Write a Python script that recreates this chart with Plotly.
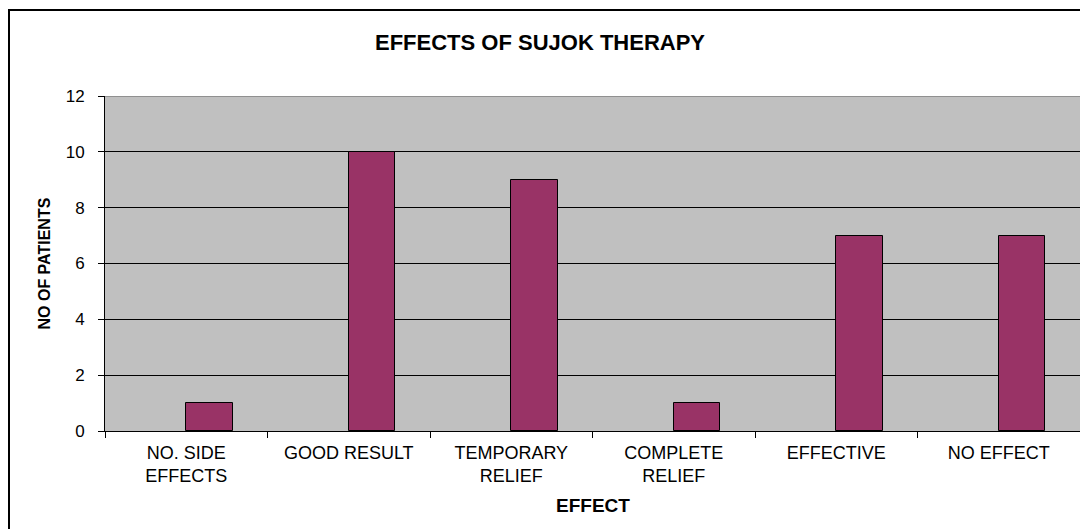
import plotly.graph_objects as go

categories = ["NO. SIDE EFFECTS", "GOOD RESULT", "TEMPORARY RELIEF",
              "COMPLETE RELIEF", "EFFECTIVE", "NO EFFECT"]
tick_labels = ["NO. SIDE<br>EFFECTS", "GOOD RESULT", "TEMPORARY<br>RELIEF",
               "COMPLETE<br>RELIEF", "EFFECTIVE", "NO EFFECT"]
patients = [1, 10, 9, 1, 7, 7]
y_ticks = [0, 2, 4, 6, 8, 10, 12]

W, H = 1080, 529
L, R, T, B = 105, 0, 96, 98
pw, ph = W - L - R, H - T - B

FONT = "Liberation Sans, Arial, sans-serif"

fig = go.Figure()
fig.add_trace(go.Bar(
    x=categories, y=patients,
    width=0.286, offset=0,
    marker=dict(color="#993366", line=dict(color="black", width=1)),
    showlegend=False,
))

def px_x(px):
    return (px - L) / pw

def px_y(py):
    return (H - B - py) / ph

fig.update_layout(
    width=W, height=H,
    margin=dict(l=L, r=R, t=T, b=B, autoexpand=False),
    paper_bgcolor="white",
    plot_bgcolor="#C0C0C0",
    bargap=0,
    title=dict(text="<b>EFFECTS OF SUJOK THERAPY</b>", x=540 / W, xanchor="center",
               y=1 - 42 / H, yanchor="middle",
               font=dict(family=FONT, size=22, color="black")),
    xaxis=dict(
        type="category",
        tickvals=categories, ticktext=tick_labels,
        tickson="boundaries", ticks="outside", ticklen=6, tickcolor="black",
        ticklabelstandoff=5,
        showline=True, linecolor="black", linewidth=1,
        showgrid=False,
        tickfont=dict(family=FONT, size=18, color="black"),
        range=[-0.5, 5.5],
    ),
    yaxis=dict(
        range=[0, 12], tickvals=y_ticks,
        ticks="outside", ticklen=6, tickcolor="black",
        ticklabelstandoff=10,
        showline=True, linecolor="black", linewidth=1,
        showgrid=True, gridcolor="black", gridwidth=1,
        zeroline=False,
        tickfont=dict(family=FONT, size=17, color="black"),
    ),
    annotations=[
        dict(text="<b>EFFECT</b>", xref="paper", yref="paper",
             x=0.5, y=px_y(505), xanchor="center", yanchor="middle",
             showarrow=False, font=dict(family=FONT, size=19, color="black")),
        dict(text="<b>NO OF PATIENTS</b>", xref="paper", yref="paper",
             x=px_x(44), y=0.5, xanchor="center", yanchor="middle", textangle=-90,
             showarrow=False, font=dict(family=FONT, size=16, color="black")),
    ],
    shapes=[
        dict(type="line", xref="paper", yref="y", x0=0, x1=1, y0=12, y1=12,
             line=dict(color="#808080", width=1.5), layer="above"),
        dict(type="rect", xref="paper", yref="paper",
             x0=px_x(9), x1=px_x(W + 10), y0=px_y(H + 10), y1=px_y(10),
             line=dict(color="black", width=2), fillcolor="rgba(0,0,0,0)"),
    ],
)

fig.write_html("out.html",
               config={"displayModeBar": False},
               post_script="document.body.style.margin='0';document.body.style.overflow='hidden';")
